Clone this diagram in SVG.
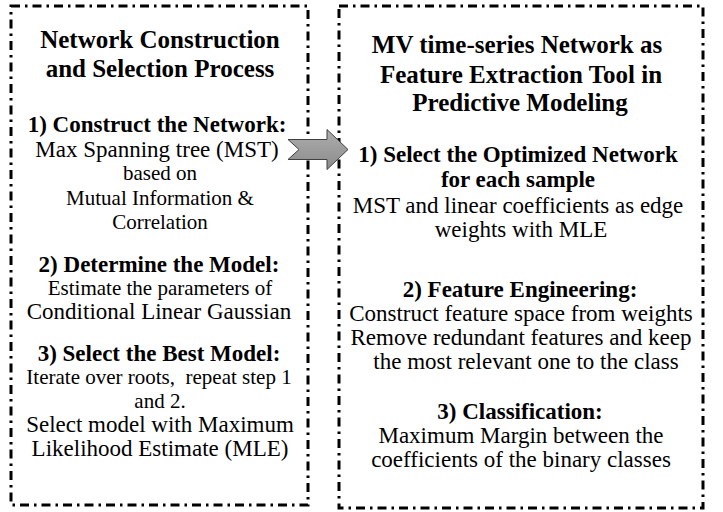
<svg xmlns="http://www.w3.org/2000/svg" width="723" height="512" viewBox="0 0 723 512">
<style>
.box{fill:none;stroke:#000;stroke-width:3;stroke-dasharray:9 5 2.5 5}
.t{font-family:'Liberation Serif','Times New Roman',serif;fill:#000;text-anchor:middle}
.ti{font-weight:bold;font-size:25px}
.h{font-weight:bold;font-size:23px}
.b{font-size:23px}
.s{font-size:21px}
</style>
<defs>
<linearGradient id="ag" x1="0" y1="0" x2="0" y2="1">
<stop offset="0" stop-color="#adadad"/>
<stop offset="1" stop-color="#8c8c8c"/>
</linearGradient>
</defs>
<rect width="723" height="512" fill="#fff"/>
<g id="left-box" class="t" font-family="Liberation Serif, serif" text-anchor="middle">
<rect class="box" x="11" y="6" width="297" height="499"/>
<text class="ti" x="160" y="48">Network Construction</text>
<text class="ti" x="160" y="77">and Selection Process</text>
<text class="h" x="157" y="132">1) Construct the Network:</text>
<text class="b" x="157" y="157">Max Spanning tree (MST)</text>
<text class="s" x="160" y="180">based on</text>
<text class="s" x="160" y="205">Mutual Information &amp;</text>
<text class="s" x="160" y="229">Correlation</text>
<text class="h" x="159" y="272">2) Determine the Model:</text>
<text class="s" x="160" y="295">Estimate the parameters of</text>
<text class="b" x="159" y="319">Conditional Linear Gaussian</text>
<text class="h" x="159" y="361">3) Select the Best Model:</text>
<text class="s" x="159" y="384" xml:space="preserve">Iterate over roots,  repeat step 1</text>
<text class="s" x="160" y="408">and 2.</text>
<text class="b" x="160" y="432" font-size="22">Select model with Maximum</text>
<text class="b" x="160" y="456">Likelihood Estimate (MLE)</text>
</g>
<g id="right-box" class="t" font-family="Liberation Serif, serif" text-anchor="middle">
<rect class="box" x="339" y="6" width="364" height="502"/>
<text class="ti" x="517" y="53" font-size="24.5">MV time-series Network as</text>
<text class="ti" x="521" y="83">Feature Extraction Tool in</text>
<text class="ti" x="520" y="111">Predictive Modeling</text>
<text class="h" x="518" y="162">1) Select the Optimized Network</text>
<text class="h" x="518" y="187">for each sample</text>
<text class="b" x="518" y="213">MST and linear coefficients as edge</text>
<text class="b" x="521" y="237" font-size="21">weights with MLE</text>
<text class="h" x="520" y="297" font-size="24">2) Feature Engineering:</text>
<text class="b" x="521" y="321">Construct feature space from weights</text>
<text class="b" x="521" y="345">Remove redundant features and keep</text>
<text class="b" x="526" y="369">the most relevant one to the class</text>
<text class="h" x="520" y="419">3) Classification:</text>
<text class="b" x="521" y="443">Maximum Margin between the</text>
<text class="b" x="521" y="467">coefficients of the binary classes</text>
</g>
<g id="connectors">
<path d="M288 139.5 L327 139.5 L327 129.5 L348 149.5 L327 169.5 L327 159.5 L288 159.5 L299 149.5 Z" fill="url(#ag)" stroke="#404040" stroke-width="1"/>
</g>
</svg>
